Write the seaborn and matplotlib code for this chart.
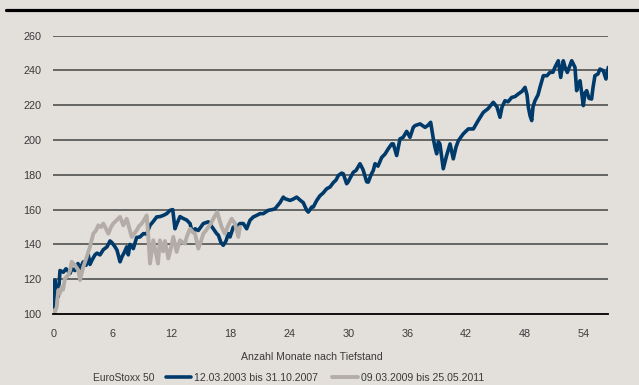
import numpy as np
import pandas as pd
import matplotlib
matplotlib.use("Agg")
import matplotlib.pyplot as plt
from matplotlib.lines import Line2D
import seaborn as sns

# ---- data ----
blue_months = [0, 0.17, 0.27, 0.51, 0.68, 1.02, 1.29, 1.70, 1.90, 2.21, 2.51, 2.72, 3.05, 3.33, 3.56,
               3.73, 3.94, 4.24, 4.45, 4.75, 5.09, 5.46, 5.77, 5.97, 6.28, 6.48, 6.79, 6.99, 7.19, 7.47,
               7.63, 7.80, 8.14, 8.48, 8.82, 9.16, 9.50, 9.84, 10.14, 10.52, 10.86, 11.19, 11.54, 11.70,
               11.87, 12.15, 12.38, 12.58, 12.89, 13.19, 13.57, 13.91, 14.08, 14.25, 14.42, 14.75, 15.26,
               15.77, 16.28, 16.62, 16.79, 17.06, 17.29, 17.57, 17.80, 17.98, 18.31, 18.66, 18.99, 19.33,
               19.67, 20.01, 20.35, 20.69, 21.03, 21.36, 21.87, 22.25, 22.55, 23.06, 23.40, 23.57, 24.08,
               24.39, 24.76, 25.10, 25.43, 25.78, 25.94, 26.29, 26.45, 26.80, 27.13, 27.44, 27.81, 28.15,
               28.48, 28.76, 28.99, 29.34, 29.50, 29.84, 30.00, 30.18, 30.52, 30.79, 31.20, 31.51, 31.88,
               32.04, 32.32, 32.55, 32.73, 33.03, 33.41, 33.75, 34.08, 34.43, 34.59, 34.93, 35.27, 35.58,
               35.95, 36.29, 36.62, 36.80, 37.31, 37.82, 38.12, 38.39, 38.66, 38.83, 39.00, 39.17, 39.33,
               39.67, 40.01, 40.36, 40.69, 40.97, 41.21, 41.71, 42.22, 42.73, 43.20, 43.74, 44.22, 44.76,
               45.14, 45.44, 45.65, 45.95, 46.26, 46.63, 46.97, 47.30, 47.68, 47.99, 48.19, 48.33, 48.50,
               48.67, 48.80, 49.00, 49.31, 49.51, 49.85, 50.22, 50.52, 50.83, 51.03, 51.37, 51.62, 51.88,
               52.05, 52.29, 52.57, 52.74, 53.07, 53.24, 53.38, 53.58, 53.78, 53.92, 54.09, 54.26, 54.50,
               54.76, 54.90, 55.10, 55.41, 55.61, 55.95, 56.22, 56.46]
blue_values = [100, 119.5, 115, 110, 125, 124, 126, 123.3, 126, 125, 129, 126, 130, 128, 134,
               128.5, 131, 134, 135, 134, 137, 138.6, 142, 141, 138.6, 136.7, 130, 133, 135, 138.6,
               134, 140, 137.6, 144, 144.3, 146.2, 146, 151, 153, 155.8, 156, 156.7, 157.7, 158.6,
               159.6, 160, 149, 152, 156, 155, 154, 152, 148.1, 147, 149, 148, 152,
               153, 149, 146.2, 145.3, 141, 139.5, 142, 146.2, 144.3, 150, 150, 152, 152,
               149, 153.9, 155.8, 156.7, 157.7, 157.7, 159.6, 160, 160.5, 164, 167.2, 166.3, 165.3,
               166, 167.2, 165.5, 164, 159.6, 158.6, 161.5, 161.5, 165.3, 168, 169.5, 172, 173,
               175.5, 177, 179.6, 181, 180.6, 174.9, 176, 178, 181.5, 182.5, 186.4, 183, 176,
               175.8, 180, 182.5, 186.4, 185, 190, 192, 195, 197.8, 197.8, 191.1, 200.7, 201.5,
               205, 201.6, 207.3, 208.3, 209.3, 207.3, 208.5, 210.2, 200.7, 195.9, 192.1, 199, 197.8,
               183.5, 191.1, 197.8, 189.2, 196, 199.7, 203.6, 206.4, 206.4, 211, 215.9, 218, 221.7,
               219, 213.1, 219, 222.6, 222, 224.5, 225, 226.5, 228, 230.3, 226, 218.8, 214,
               211.2, 219, 222.6, 226, 230.3, 237, 237, 238.9, 239, 241.8, 245.6, 236, 245.6,
               242, 238.9, 243, 245.6, 241.8, 228.4, 232, 234.1, 226, 219.8, 227, 228.4, 224,
               223.6, 230, 237, 238, 240.8, 239.9, 235.1, 241.8]

gray_months = [0, 0.07, 0.35, 0.51, 0.68, 0.85, 0.99, 1.19, 1.53, 1.70, 1.87, 2.21, 2.54, 2.72, 3.05,
               3.40, 3.73, 4.07, 4.34, 4.58, 4.85, 5.09, 5.36, 5.60, 5.87, 6.10, 6.45, 6.79, 7.12, 7.47,
               7.70, 7.98, 8.21, 8.48, 8.72, 8.99, 9.23, 9.50, 9.66, 9.84, 10.17, 10.52, 10.65, 10.85,
               11.16, 11.36, 11.70, 11.97, 12.21, 12.55, 12.89, 13.19, 13.40, 13.57, 13.91, 14.22, 14.42,
               14.75, 15.03, 15.26, 15.53, 15.77, 16.03, 16.28, 16.68, 16.91, 17.13, 17.46, 17.80, 18.15,
               18.48, 18.82, 18.99]
gray_values = [102, 100, 104, 113.8, 112, 115.6, 114, 120.5, 122.4, 125, 130, 128, 125.2, 119.5, 127.1,
               132.8, 138.6, 146.2, 148, 151, 150, 152, 149, 146.2, 150, 152, 154, 155.8, 151, 154.8,
               150, 144.3, 146, 148.1, 150.5, 152, 154, 156.7, 145, 129, 142.4, 132.8, 129, 142.4,
               136, 142, 131.9, 138, 144.3, 135.7, 142.4, 141, 140.5, 144.3, 149, 147, 146.2,
               137.6, 142, 146.2, 148, 150, 152, 154.8, 158.6, 154, 150, 146.2, 151, 154.8,
               152, 144.3, 150]

series_labels = ["12.03.2003 bis 31.10.2007", "09.03.2009 bis 25.05.2011"]
index_name = "EuroStoxx 50"
x_label = "Anzahl Monate nach Tiefstand"
x_ticks = [0, 6, 12, 18, 24, 30, 36, 42, 48, 54]
y_ticks = [100, 120, 140, 160, 180, 200, 220, 240, 260]

# ---- style ----
BG = "#E3E0DC"
BLUE = "#003A6A"
GRAY = "#B4ADA7"
TXT = "#3a3a3a"

sns.set_style("white")
plt.rcParams["font.family"] = ["Liberation Sans", "DejaVu Sans"]

fig = plt.figure(figsize=(6.39, 3.85), dpi=100, facecolor=BG)
ax = fig.add_axes([53.3 / 639, 1 - 314 / 385, (608.3 - 53.3) / 639, (314 - 35.7) / 385])
ax.set_facecolor(BG)

df_blue = pd.DataFrame({"m": blue_months, "v": blue_values})
df_gray = pd.DataFrame({"m": gray_months, "v": gray_values})

for yv in y_ticks[1:]:
    ax.axhline(yv, color="#505050", lw=1.2, zorder=1)

sns.lineplot(data=df_blue, x="m", y="v", ax=ax, color=BLUE, lw=2.6, zorder=3,
             estimator=None, sort=False)
sns.lineplot(data=df_gray, x="m", y="v", ax=ax, color=GRAY, lw=2.8, zorder=4,
             estimator=None, sort=False)

ax.set_xlim(0, max(blue_months))
ax.set_ylim(100, 260)
ax.set_xticks(x_ticks)
ax.set_yticks(y_ticks)
ax.set_xlabel("")
ax.set_ylabel("")
for s in ["top", "right", "left"]:
    ax.spines[s].set_visible(False)
ax.spines["bottom"].set_color("black")
ax.spines["bottom"].set_linewidth(1.3)
ax.spines["bottom"].set_zorder(5)
ax.tick_params(axis="x", length=3, width=1, color="black", direction="out", pad=8,
               labelsize=7.8, labelcolor=TXT)
ax.tick_params(axis="y", length=0, pad=8.5, labelsize=7.8, labelcolor=TXT)

fig.text(312 / 639, 1 - 357 / 385, x_label, ha="center", va="center", fontsize=7.6, color=TXT)
fig.text(93 / 639, 1 - 378 / 385, index_name, ha="left", va="center", fontsize=7.4, color=TXT)

handles = [Line2D([], [], color=BLUE, lw=2.6), Line2D([], [], color=GRAY, lw=2.8)]
leg = fig.legend(handles, series_labels, loc="center left",
                 bbox_to_anchor=(166 / 639, 1 - 378 / 385), ncol=2, frameon=False,
                 fontsize=7.6, handlelength=2.4, handletextpad=0.3, columnspacing=1.3,
                 borderpad=0, borderaxespad=0)
for t in leg.get_texts():
    t.set_color(TXT)

fig.add_artist(Line2D([6 / 639, 1.0], [1 - 10 / 385, 1 - 10 / 385], color="black", lw=2.3,
                      transform=fig.transFigure))

fig.savefig("out.png", dpi=100, facecolor=BG)
